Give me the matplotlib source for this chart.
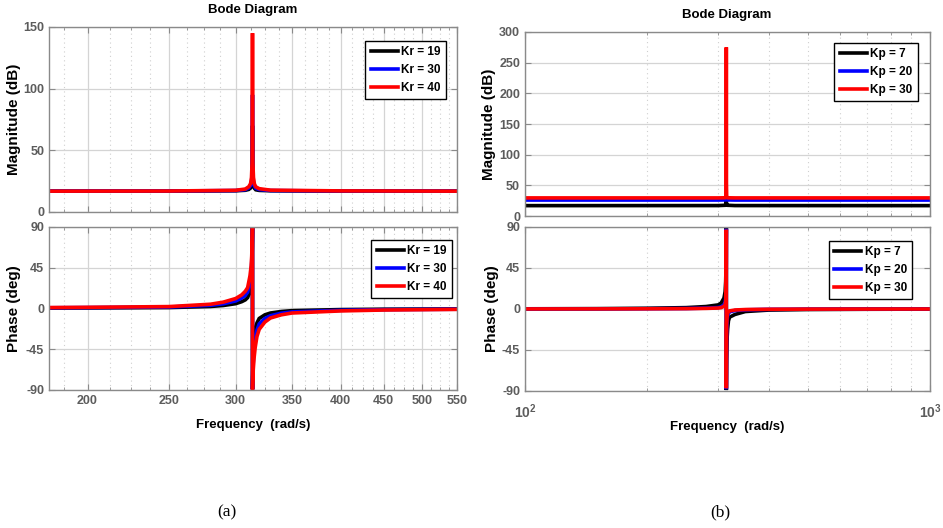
import matplotlib
matplotlib.use("Agg")
import matplotlib.pyplot as plt
from matplotlib.ticker import FixedLocator, NullFormatter, FixedFormatter


# ==================================
# DATA
# ==================================

# (a) PR controller, varying Kr
kr_labels = ["Kr = 19", "Kr = 30", "Kr = 40"]

w_mag_a = [180, 250, 300, 308, 311, 312.5, 313.3, 313.8, 314.05, 314.16,
           314.27, 314.5, 315, 315.8, 317, 320, 330, 400, 550]
mag_a_kr19 = [16.9, 16.9, 17.2, 17.6, 18.3, 19.5, 21, 25, 36, 70,
              36, 25, 21, 19.2, 18.0, 17.5, 17.2, 16.9, 16.9]
mag_a_kr30 = [16.9, 17.0, 17.4, 18.1, 19.5, 21.5, 24, 30, 45, 95,
              45, 30, 24, 21.0, 19.2, 18.2, 17.4, 17.0, 16.9]
mag_a_kr40 = [16.9, 17.0, 17.6, 18.6, 20.5, 23, 28, 40, 80, 145,
              80, 40, 28, 22.8, 20.4, 18.9, 17.7, 17.1, 16.9]

w_ph_a = [180, 200, 250, 280, 290, 300, 305, 308, 310, 312, 313, 313.5, 314,
          314.15, 314.17, 314.3, 314.8, 315.5, 316.5, 318, 320, 325, 330,
          340, 350, 400, 450, 550]
ph_a_kr19 = [0.5, 0.6, 1.0, 2.2, 3.3, 5.3, 7.5, 9.5, 12, 19, 28, 38, 68,
             89, -89, -75, -50, -35, -24, -16, -11, -7, -5,
             -3.3, -2.4, -1.2, -0.8, -0.5]
ph_a_kr30 = [0.8, 1.0, 1.6, 3.5, 5.2, 8.3, 11.5, 14.5, 18, 29, 40, 51, 76,
             89.5, -89.5, -80, -60, -46, -34, -24, -17, -11, -8,
             -5.2, -3.8, -2.0, -1.3, -0.8]
ph_a_kr40 = [1.0, 1.3, 2.1, 4.7, 7.0, 11, 15, 19, 23, 36, 47, 58, 80,
             89.7, -89.7, -84, -68, -55, -43, -31, -23, -15, -10.5,
             -7, -5, -2.7, -1.7, -1.0]

# (b) PR controller, varying Kp
kp_labels = ["Kp = 7", "Kp = 20", "Kp = 30"]

w_mag_b = [100, 300, 312, 313.5, 314.05, 314.16, 314.27, 314.8, 316.5, 330, 1000]
mag_b_kp7 = [16.9, 17.0, 17.5, 19, 23, 27, 23, 19, 17.5, 17.0, 16.9]
mag_b_kp20 = [26.0, 26.0, 26.2, 27, 28.5, 30, 28.5, 27, 26.2, 26.0, 26.0]
mag_b_kp30 = [29.5, 29.5, 29.7, 31, 60, 275, 60, 31, 29.7, 29.5, 29.5]

w_ph_b = [100, 150, 200, 250, 280, 300, 305, 310, 312, 313, 313.7, 314.05,
          314.15, 314.17, 314.27, 314.6, 315.3, 316.5, 318, 320, 330, 350,
          400, 500, 700, 1000]
ph_b_kp7 = [0.2, 0.4, 0.8, 1.5, 2.7, 4.5, 6.5, 12, 19, 30, 50, 80,
            89, -89, -80, -55, -35, -22, -13, -9, -6, -2.8,
            -1.2, -0.6, -0.3, -0.15]
ph_b_kp20 = [0.07, 0.14, 0.28, 0.5, 0.95, 1.6, 2.3, 4.3, 7, 11.5, 22, 60,
             88, -88, -60, -25, -13, -7.5, -4.6, -3.1, -1.7, -0.9,
             -0.4, -0.2, -0.1, -0.05]
ph_b_kp30 = [0.05, 0.1, 0.2, 0.35, 0.65, 1.05, 1.5, 2.9, 4.7, 7.8, 15, 50,
             87, -87, -50, -17, -8.7, -5, -3, -2.1, -1.1, -0.6,
             -0.3, -0.15, -0.07, -0.03]

a_major = [200, 250, 300, 350, 400, 450, 500, 550]
a_minor = [187.5, 212.5, 225, 237.5, 262.5, 275, 287.5, 312.5, 325, 337.5,
           362.5, 375, 387.5, 412.5, 425, 437.5, 462.5, 475, 487.5, 512.5,
           525, 537.5]
b_minor = [200, 300, 400, 500, 600, 700, 800, 900]

mag_a_ticks = [0, 50, 100, 150]
mag_b_ticks = [0, 50, 100, 150, 200, 250, 300]
ph_ticks = [-90, -45, 0, 45, 90]

COLORS = ["black", "#0000ff", "#ff0000"]
TICK_GREY = "#5c5c5c"
SPINE_GREY = "#8a8a8a"
FONT = "Liberation Sans"

plt.rcParams["font.family"] = [FONT, "DejaVu Sans"]
plt.rcParams["axes.unicode_minus"] = False


def style_axes(ax):

    for sp in ax.spines.values():
        sp.set_color(SPINE_GREY)
        sp.set_linewidth(1.0)

    ax.tick_params(
        which="both",
        direction="in",
        top=True,
        right=True,
        colors=SPINE_GREY,
        labelcolor=TICK_GREY,
        labelsize=9
    )
    ax.tick_params(which="major", length=4)
    ax.tick_params(which="minor", length=2)

    for lbl in ax.get_xticklabels() + ax.get_yticklabels():
        lbl.set_fontweight("bold")

    ax.grid(True, which="major", color="#d4d4d4", linewidth=0.9, linestyle="-")
    ax.grid(True, which="minor", axis="x", color="#cfcfcf", linewidth=0.8,
            linestyle=(0, (1, 3)))
    ax.set_axisbelow(True)


def add_legend(ax, labels, anchor):

    leg = ax.legend(
        labels,
        loc="upper right",
        bbox_to_anchor=anchor,
        borderaxespad=0,
        fancybox=False,
        framealpha=1,
        edgecolor="black",
        handlelength=2.3,
        handletextpad=0.3,
        borderpad=0.45,
        labelspacing=0.5,
        prop={"weight": "bold", "size": 8.5, "family": FONT}
    )
    leg.get_frame().set_linewidth(1.0)


def plot_lines(ax, w, series):

    for y, c in zip(series, COLORS):
        ax.plot(w, y, color=c, linewidth=2.6, solid_joinstyle="miter")


fig = plt.figure(figsize=(9.43, 5.28), dpi=100)
fig.patch.set_facecolor("white")

# ==================================
# PANEL (a)
# ==================================

ax_ma = fig.add_axes([0.052, 0.5985, 0.4327, 0.3504])
ax_pa = fig.add_axes([0.052, 0.2614, 0.4327, 0.3087])

plot_lines(ax_ma, w_mag_a, [mag_a_kr19, mag_a_kr30, mag_a_kr40])
plot_lines(ax_pa, w_ph_a, [ph_a_kr19, ph_a_kr30, ph_a_kr40])

for ax in (ax_ma, ax_pa):
    ax.set_xscale("log")
    ax.set_xlim(180, 550)
    ax.xaxis.set_major_locator(FixedLocator(a_major))
    ax.xaxis.set_minor_locator(FixedLocator(a_minor))
    ax.xaxis.set_minor_formatter(NullFormatter())

ax_ma.xaxis.set_major_formatter(NullFormatter())
ax_pa.xaxis.set_major_formatter(FixedFormatter([str(v) for v in a_major]))

ax_ma.set_ylim(0, 150)
ax_ma.set_yticks(mag_a_ticks)
ax_pa.set_ylim(-90, 90)
ax_pa.set_yticks(ph_ticks)

style_axes(ax_ma)
style_axes(ax_pa)

add_legend(ax_ma, kr_labels, (0.973, 0.924))
add_legend(ax_pa, kr_labels, (0.988, 0.920))

ax_ma.set_ylabel("Magnitude (dB)", fontsize=11, fontweight="bold")
ax_ma.yaxis.set_label_coords(-0.069, 0.5)
ax_pa.set_ylabel("Phase (deg)", fontsize=11, fontweight="bold")
ax_pa.yaxis.set_label_coords(-0.069, 0.5)
ax_pa.set_xlabel("Frequency  (rad/s)", fontsize=9.5, fontweight="bold")
ax_pa.xaxis.set_label_coords(0.5, -0.178)

fig.text(253 / 943, 1 - 10 / 528, "Bode Diagram", ha="center", va="center",
         fontsize=9.5, fontweight="bold")

# ==================================
# PANEL (b)
# ==================================

ax_mb = fig.add_axes([0.5567, 0.5909, 0.4295, 0.3485])
ax_pb = fig.add_axes([0.5567, 0.2595, 0.4295, 0.3106])

plot_lines(ax_mb, w_mag_b, [mag_b_kp7, mag_b_kp20, mag_b_kp30])
plot_lines(ax_pb, w_ph_b, [ph_b_kp7, ph_b_kp20, ph_b_kp30])

for ax in (ax_mb, ax_pb):
    ax.set_xscale("log")
    ax.set_xlim(100, 1000)
    ax.xaxis.set_major_locator(FixedLocator([100, 1000]))
    ax.xaxis.set_minor_locator(FixedLocator(b_minor))
    ax.xaxis.set_minor_formatter(NullFormatter())

ax_mb.xaxis.set_major_formatter(NullFormatter())

ax_mb.set_ylim(0, 300)
ax_mb.set_yticks(mag_b_ticks)
ax_pb.set_ylim(-90, 90)
ax_pb.set_yticks(ph_ticks)

style_axes(ax_mb)
style_axes(ax_pb)
ax_pb.tick_params(axis="x", which="major", pad=8, labelsize=10)

add_legend(ax_mb, kp_labels, (0.970, 0.940))
add_legend(ax_pb, kp_labels, (0.956, 0.915))

ax_mb.set_ylabel("Magnitude (dB)", fontsize=11, fontweight="bold")
ax_mb.yaxis.set_label_coords(-0.072, 0.5)
ax_pb.set_ylabel("Phase (deg)", fontsize=11, fontweight="bold")
ax_pb.yaxis.set_label_coords(-0.064, 0.5)
ax_pb.set_xlabel("Frequency  (rad/s)", fontsize=9.5, fontweight="bold")
ax_pb.xaxis.set_label_coords(0.5, -0.183)

fig.text(727 / 943, 1 - 15 / 528, "Bode Diagram", ha="center", va="center",
         fontsize=9.5, fontweight="bold")

# ==================================
# CAPTIONS
# ==================================

fig.text(227 / 943, 1 - 512 / 528, "(a)", ha="center", va="center",
         fontsize=12.5, family="Liberation Serif")
fig.text(720 / 943, 1 - 512 / 528, "(b)", ha="center", va="center",
         fontsize=12.5, family="Liberation Serif")

fig.savefig("out.png", dpi=100)
plt.close(fig)
